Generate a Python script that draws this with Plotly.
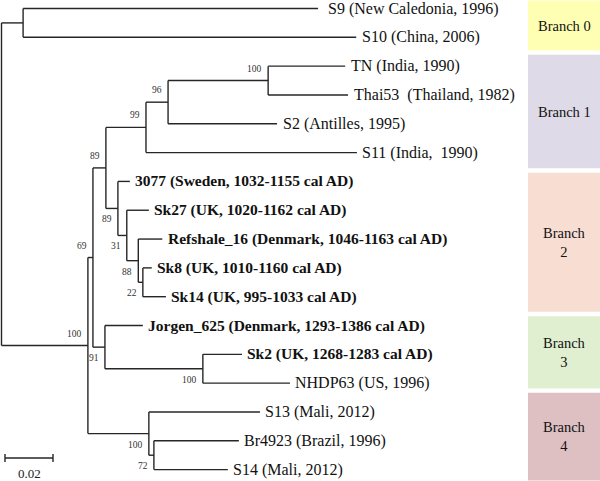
import plotly.graph_objects as go

# ---------------- data ----------------
node_ids = ["root", "n0", "S9", "S10", "nA", "nB", "nC", "nD", "nE", "nF", "TN", "Thai53", "S2", "S11",
            "nG", "3077", "nH", "Sk27", "nI", "Refshale_16", "nJ", "Sk8", "Sk14",
            "nK", "Jorgen_625", "nL", "Sk2", "NHDP63", "nM", "S13", "nN", "Br4923", "S14"]
parent_ids = [None, "root", "n0", "n0", "root", "nA", "nB", "nC", "nD", "nE", "nF", "nF", "nE", "nD",
              "nC", "nG", "nG", "nH", "nH", "nI", "nI", "nJ", "nJ",
              "nB", "nK", "nK", "nL", "nL", "nA", "nM", "nM", "nN", "nN"]
branch_lengths = [0.0, 0.0090, 0.1229, 0.1388, 0.0360, 0.0021, 0.0054, 0.0167, 0.0092, 0.0417, 0.0321, 0.0333, 0.0454, 0.0879,
                  0.0050, 0.0050, 0.0037, 0.0092, 0.0048, 0.0100, 0.0019, 0.0037, 0.0096,
                  0.0050, 0.0158, 0.0408, 0.0163, 0.0363, 0.0254, 0.0463, 0.0021, 0.0354, 0.0308]
bootstrap = [None, None, None, None, 100, 69, 89, 99, 96, 100, None, None, None, None,
             89, None, 31, None, 88, None, 22, None, None,
             91, None, 100, None, None, 100, None, 72, None, None]
bootstrap_below = {"nG", "nH", "nI", "nJ", "nK", "nL", "nM", "nN"}  # label placement style

leaf_labels = {
    "S9": "\u00a0S9 (New Caledonia, 1996)",
    "S10": "S10 (China, 2006)",
    "TN": "TN (India, 1990)",
    "Thai53": "Thai53\u00a0 (Thailand, 1982)",
    "S2": "S2 (Antilles, 1995)",
    "S11": "S11 (India,\u00a0 1990)",
    "3077": "3077 (Sweden, 1032-1155 cal AD)",
    "Sk27": "Sk27 (UK, 1020-1162 cal AD)",
    "Refshale_16": "Refshale_16 (Denmark, 1046-1163 cal AD)",
    "Sk8": "Sk8 (UK, 1010-1160 cal AD)",
    "Sk14": "Sk14 (UK, 995-1033 cal AD)",
    "Jorgen_625": "Jorgen_625 (Denmark, 1293-1386 cal AD)",
    "Sk2": "Sk2 (UK, 1268-1283 cal AD)",
    "NHDP63": "NHDP63 (US, 1996)",
    "S13": "S13 (Mali, 2012)",
    "Br4923": "Br4923 (Brazil, 1996)",
    "S14": "S14 (Mali, 2012)",
}
ancient_leaves = ["3077", "Sk27", "Refshale_16", "Sk8", "Sk14", "Jorgen_625", "Sk2"]

branch_names = ["Branch 0", "Branch 1", "Branch<br>2", "Branch<br>3", "Branch<br>4"]
branch_colors = ["#FFFFB4", "#DFDAE8", "#F8DDD3", "#E0EFD0", "#DEC0C3"]

scale_bar_value = 0.02

# ---------------- style / placement constants ----------------
W, H = 600, 481
px_per_unit = 2400.0
root_px = 1.5
leaf_px0, leaf_step = 8.5, 28.82
box_edges = [-0.35, 1.53, 5.62, 10.6, 13.26, 16.45]   # boundaries between coloured bands (leaf-row units)
box_gap = 0.075
SERIF = "Liberation Serif"

# ---------------- layout of tree ----------------
children = {n: [] for n in node_ids}
parent_of = dict(zip(node_ids, parent_ids))
for n, p in zip(node_ids, parent_ids):
    if p is not None:
        children[p].append(n)
blen = dict(zip(node_ids, branch_lengths))
boot = dict(zip(node_ids, bootstrap))

xpos, ypos = {}, {}
leaf_order = []


def place(n, x):
    xpos[n] = x
    if not children[n]:
        ypos[n] = len(leaf_order)
        leaf_order.append(n)
        return
    for c in children[n]:
        place(c, x + blen[c])
    ypos[n] = (ypos[children[n][0]] + ypos[children[n][-1]]) / 2


place("root", 0.0)

lx, ly = [], []
for n in node_ids:
    p = parent_of[n]
    if p is not None:
        lx += [xpos[p], xpos[n], None]
        ly += [ypos[n], ypos[n], None]
    if children[n]:
        ys = [ypos[c] for c in children[n]]
        lx += [xpos[n], xpos[n], None]
        ly += [min(ys), max(ys), None]

fig = go.Figure()
fig.add_trace(go.Scatter(x=lx, y=ly, mode="lines",
                         line=dict(color="#262626", width=1.4),
                         hoverinfo="skip", showlegend=False))

ann = []
for n in leaf_order:
    txt = leaf_labels[n]
    bold = n in ancient_leaves
    ann.append(dict(x=xpos[n], y=ypos[n], xref="x", yref="y", text=("<b>%s</b>" % txt) if bold else txt,
                    showarrow=False, xanchor="left", yanchor="middle", xshift=3.5, yshift=0,
                    font=dict(family=SERIF, size=15.5 if bold else 16, color="#111111")))
for n in node_ids:
    if boot[n] is not None:
        below = n in bootstrap_below
        ann.append(dict(x=xpos[n], y=ypos[n], xref="x", yref="y", text=str(boot[n]),
                        showarrow=False, xanchor="right", yanchor="middle", xshift=-4,
                        yshift=-11 if below else 12,
                        font=dict(family=SERIF, size=9.5, color="#333333")))

shapes = []
for i, (name, col) in enumerate(zip(branch_names, branch_colors)):
    y0 = box_edges[i] + box_gap
    y1 = box_edges[i + 1] - box_gap
    shapes.append(dict(type="rect", xref="paper", yref="y", x0=528 / W, x1=1.0, y0=y0, y1=y1,
                       fillcolor=col, line=dict(width=0), layer="below"))
    ymid = (max(y0, -leaf_px0 / leaf_step) + min(y1, (H - leaf_px0) / leaf_step)) / 2
    ann.append(dict(x=564 / W, y=ymid, xref="paper", yref="y", text=name, showarrow=False,
                    xanchor="center", yanchor="middle",
                    font=dict(family=SERIF, size=14.5, color="#111111")))

# scale bar
sb_x0 = 3.5 / px_per_unit
sb_y = 1 - 458 / H
tick = 4 / H
shapes.append(dict(type="line", xref="x", yref="paper", x0=sb_x0, x1=sb_x0 + scale_bar_value, y0=sb_y, y1=sb_y,
                   line=dict(color="#262626", width=1.4)))
for xx in (sb_x0, sb_x0 + scale_bar_value):
    shapes.append(dict(type="line", xref="x", yref="paper", x0=xx, x1=xx, y0=sb_y - tick, y1=sb_y + tick,
                       line=dict(color="#262626", width=1.4)))
ann.append(dict(x=sb_x0 + scale_bar_value / 2, y=1 - 473 / H, xref="x", yref="paper", text=str(scale_bar_value),
                showarrow=False, xanchor="center", yanchor="middle",
                font=dict(family=SERIF, size=13, color="#222222")))

fig.update_layout(
    width=W, height=H, margin=dict(l=0, r=0, t=0, b=0),
    paper_bgcolor="white", plot_bgcolor="white",
    font=dict(family=SERIF),
    xaxis=dict(range=[-root_px / px_per_unit, (W - root_px) / px_per_unit], visible=False, fixedrange=True),
    yaxis=dict(range=[(H - leaf_px0) / leaf_step, -leaf_px0 / leaf_step], visible=False, fixedrange=True),
    shapes=shapes, annotations=ann, showlegend=False,
)

fig.write_html("out.html", config={"displayModeBar": False},
               post_script="document.body.style.margin='0';document.body.style.overflow='hidden';")
